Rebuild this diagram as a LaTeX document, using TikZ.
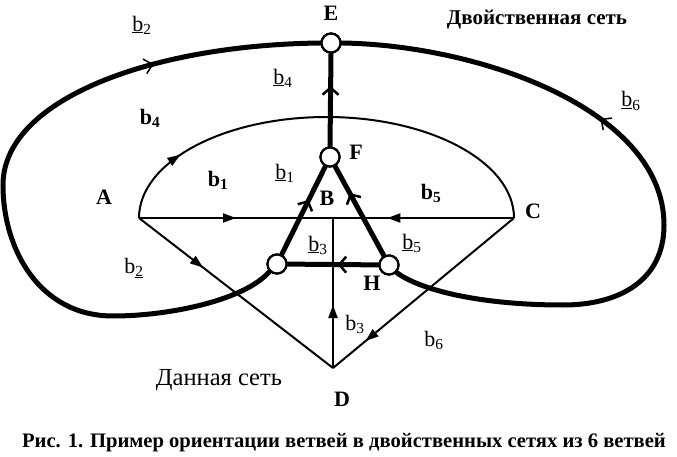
\documentclass[tikz,border=0pt]{standalone}
\usepackage{fontspec}
\setmainfont{Liberation Serif}
\usetikzlibrary{arrows.meta,decorations.markings}
\tikzset{
  thinline/.style={line width=2pt},
  thickline/.style={line width=5pt,line cap=round},
  dualnode/.style={circle,draw,fill=white,line width=2.2pt,minimum size=19pt,inner sep=0pt},
  thinarrow/.style={postaction={decorate},decoration={markings,mark=at position #1 with {\arrow{Triangle[length=13pt,width=9pt]}}}},
  thickarrow/.style={postaction={decorate},decoration={markings,mark=at position #1 with {\arrow[line width=2.5pt]{Straight Barb[length=7pt,width=16pt]}}}},
  looparrow/.style={postaction={decorate},decoration={markings,mark=at position #1 with {\arrow[line width=1.5pt]{Straight Barb[length=8pt,width=15pt]}}}},
  vlabel/.style={font=\fontsize{22}{24}\selectfont\bfseries,inner sep=0pt},
  blabel/.style={font=\fontsize{22}{24}\selectfont,inner sep=0pt},
  bblabel/.style={font=\fontsize{22}{24}\selectfont\bfseries,inner sep=0pt},
}
\begin{document}
\begin{tikzpicture}[x=1pt,y=-1pt]
\useasboundingbox (0,0) rectangle (677,457);
% primal graph
\coordinate (A) at (139,218);
\coordinate (B) at (333,218);
\coordinate (C) at (514,218);
\coordinate (D) at (333,368);
\draw[thinline,thinarrow=0.17] (A) arc[start angle=180,end angle=360,x radius=187.5,y radius=101];
\draw[thinline,thinarrow=0.5] (A) -- (B);
\draw[thinline,thinarrow=0.7] (C) -- (B);
\draw[thinline,thinarrow=0.42] (D) -- (B);
\draw[thinline,thinarrow=0.33] (A) -- (D);
\draw[thinline,thinarrow=0.82] (C) -- (D);
% dual graph nodes
\node[dualnode] (E) at (331,43) {};
\node[dualnode] (F) at (330,157) {};
\node[dualnode] (G) at (277,264) {};
\node[dualnode] (H) at (389,265) {};
% dual edges
\draw[thickline,looparrow=0.77] (G.south west) .. controls (245,300) and (170,316) .. (113,316)
  .. controls (40,316) and (3,250) .. (3,185)
  .. controls (3,100) and (150,45) .. (E.west);
\draw[thickline,looparrow=0.62] (H.south east) .. controls (420,290) and (480,305) .. (563,305)
  .. controls (620,305) and (664,280) .. (664,225)
  .. controls (664,110) and (480,45) .. (E.east);
\draw[thickline,thickarrow=0.65] (F.north) -- (E.south);
\draw[thickline,thickarrow=0.62] (G) -- (F);
\draw[thickline,thickarrow=0.7] (H) -- (F);
\draw[thickline,thickarrow=0.45] (H) -- (G);
\node[dualnode] at (E) {};
\node[dualnode] at (F) {};
\node[dualnode] at (G) {};
\node[dualnode] at (H) {};
% labels
\node[vlabel] (lE) at (331,13) {E};
\node[vlabel] (lF) at (356,152) {F};
\node[vlabel] (lA) at (104,197) {A};
\node[vlabel] (lB) at (327,198) {B};
\node[vlabel] (lC) at (533,211) {C};
\node[vlabel] (lH) at (372,283) {H};
\node[vlabel] (lD) at (342,399) {D};
\node[font=\fontsize{21}{23}\selectfont\bfseries,inner sep=0pt] (t1) at (537,20) {Двойственная сеть};
\node[font=\fontsize{24.5}{26}\selectfont,inner sep=0pt] (t2) at (219,380) {Данная сеть};
\node[blabel] (lb2u) at (142,25) {\underline{b}\textsubscript{2}};
\node[blabel] (lb4u) at (283,78) {\underline{b}\textsubscript{4}};
\node[bblabel] (lb4) at (150,118) {b\textsubscript{4}};
\node[blabel] (lb6u) at (631,101) {\underline{b}\textsubscript{6}};
\node[bblabel] (lb1) at (218,180) {b\textsubscript{1}};
\node[blabel] (lb1u) at (285,173) {\underline{b}\textsubscript{1}};
\node[bblabel] (lb5) at (431,193) {b\textsubscript{5}};
\node[blabel] (lb5u) at (412,243) {\underline{b}\textsubscript{5}};
\node[blabel] (lb3u) at (318,245) {\underline{b}\textsubscript{3}};
\node[blabel] (lb2) at (134,268) {b\textsubscript{\underline{2}}};
\node[blabel] (lb3) at (355,324) {b\textsubscript{3}};
\node[blabel] (lb6) at (434,340) {b\textsubscript{6}};
\node[font=\fontsize{20.6}{22}\selectfont\bfseries,inner sep=0pt] (cap) at (344,443) {Рис. 1. Пример ориентации ветвей в двойственных сетях из 6 ветвей};
\end{tikzpicture}
\end{document}
